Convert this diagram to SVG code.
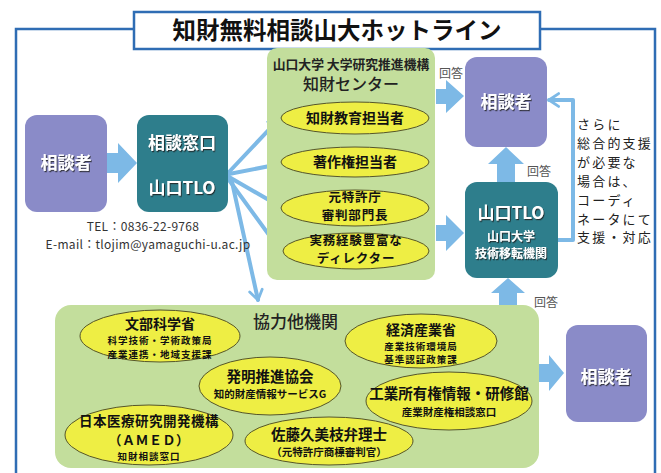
<svg xmlns="http://www.w3.org/2000/svg" width="661" height="473" viewBox="0 0 661 473">
<style>
text{font-family:"Noto Sans CJK JP","Noto Sans",sans-serif;text-anchor:middle}
.wt{fill:#fff;font-weight:700}
.et{fill:#111;font-weight:700}
.gr{fill:#555;font-size:12px}
.purple{fill:#8a8bc8}
.teal{fill:#2e7e8c}
.green{fill:#c3de9c}
.ell{fill:#eeee44;stroke:#55552a;stroke-width:1}
.blk{fill:#7db9e6}
.fan{fill:none;stroke:#7db9e6;stroke-width:4;stroke-linecap:round}
.note{fill:#222;font-size:13px;letter-spacing:2.2px;text-anchor:start}
.s{font-size:9.5px;letter-spacing:1px}
.ct{fill:#333;font-size:12px;letter-spacing:0.3px}
</style>
<defs>
<filter id="sh" x="-20%" y="-20%" width="140%" height="140%">
<feDropShadow dx="1" dy="1.2" stdDeviation="0.6" flood-color="#222" flood-opacity="0.8"/>
</filter>
<marker id="chev" viewBox="0 0 20 20" refX="16" refY="10" markerWidth="16" markerHeight="16" markerUnits="userSpaceOnUse" orient="auto">
<path d="M4,2 L16,10 L4,18" fill="none" stroke="#7db9e6" stroke-width="3.5" stroke-linecap="round" stroke-linejoin="round"/>
</marker>
</defs>
<rect width="661" height="473" fill="#fff"/>

<g id="frame">
<path d="M16,473 L16,29 L134,29 M540,29 L655,29 L655,473" fill="none" stroke="#2f6db4" stroke-width="2.5"/>
</g>
<g id="title">
<rect x="134" y="12" width="406" height="37" fill="#fff" stroke="#2f6db4" stroke-width="2.5"/>
<text x="337" y="39" font-size="23.5" font-weight="700" fill="#111">知財無料相談山大ホットライン</text>
</g>

<g id="connectors">
<polygon class="blk" points="107,153 118,153 118,143 137,163 118,183 118,173 107,173"/>
<polygon class="blk" points="436,89 446,89 446,80 464,96 446,113 446,104 436,104"/>
<polygon class="blk" points="436,225 446,225 446,215 464,233 446,251 446,241 436,241"/>
<polygon class="blk" points="497,182 497,164 488,164 506,147 524,164 515,164 515,182"/>
<polygon class="blk" points="499,305 499,293 491,293 508,278 525,293 517,293 517,305"/>
<polygon class="blk" points="539,364 549,364 549,355 564,373 549,391 549,382 539,382"/>
<path class="fan" d="M229,172 L279,119" marker-end="url(#chev)"/>
<path class="fan" d="M229,174 L280,164" marker-end="url(#chev)"/>
<path class="fan" d="M229,177 L281,207" marker-end="url(#chev)"/>
<path class="fan" d="M229,180 L280,250" marker-end="url(#chev)"/>
<path class="fan" d="M232,182 L258,300" marker-end="url(#chev)"/>
<path class="fan" d="M558,240 L573,240 L573,100 L549,100" stroke-linejoin="round" marker-end="url(#chev)"/>
<text class="gr" x="451" y="78">回答</text>
<text class="gr" x="539" y="176">回答</text>
<text class="gr" x="546" y="307">回答</text>
</g>

<g id="client-left">
<rect class="purple" x="25" y="115" width="82" height="97" rx="12"/>
<text class="wt" x="66" y="169" font-size="17" filter="url(#sh)">相談者</text>
</g>

<g id="window">
<rect class="teal" x="137" y="115" width="91" height="97" rx="12"/>
<text class="wt" x="182" y="149" font-size="17" filter="url(#sh)">相談窓口</text>
<text class="wt" x="182" y="194" font-size="17" filter="url(#sh)">山口TLO</text>
</g>

<g id="contact">
<text class="ct" x="143" y="231">TEL：0836-22-9768</text>
<text class="ct" x="148" y="249">E-mail：tlojim@yamaguchi-u.ac.jp</text>
</g>

<g id="center">
<rect class="green" x="267" y="48" width="168" height="232" rx="10"/>
<text x="351" y="69" font-size="12.8" font-weight="700" fill="#222">山口大学 大学研究推進機構</text>
<text x="351" y="90" font-size="16" font-weight="500" fill="#222">知財センター</text>
</g>
<g id="n-edu">
<ellipse class="ell" cx="355" cy="118" rx="74" ry="16"/>
<text class="et" x="355" y="123" font-size="14">知財教育担当者</text>
</g>
<g id="n-copy">
<ellipse class="ell" cx="355" cy="162" rx="74" ry="15"/>
<text class="et" x="355" y="167" font-size="14">著作権担当者</text>
</g>
<g id="n-jpo">
<ellipse class="ell" cx="355" cy="208" rx="74" ry="18"/>
<text class="et" x="355" y="201.5" font-size="12.5" letter-spacing="0.8">元特許庁<tspan x="355" dy="18.2">審判部門長</tspan></text>
</g>
<g id="n-dir">
<ellipse class="ell" cx="356" cy="251" rx="73" ry="18"/>
<text class="et" x="356" y="244.5" font-size="12.5" letter-spacing="0.8">実務経験豊富な<tspan x="356" dy="18.2">ディレクター</tspan></text>
</g>

<g id="client-top">
<rect class="purple" x="465" y="57" width="82" height="90" rx="12"/>
<text class="wt" x="506" y="108" font-size="17" filter="url(#sh)">相談者</text>
</g>

<g id="tlo">
<rect class="teal" x="465" y="182" width="93" height="96" rx="12"/>
<text class="wt" x="511" y="219" font-size="17" filter="url(#sh)">山口TLO</text>
<text class="wt" x="511" y="240.5" font-size="12" filter="url(#sh)">山口大学<tspan x="511" dy="17.6">技術移転機関</tspan></text>
</g>

<g id="note">
<text class="note" x="577" y="129">さらに<tspan x="577" dy="18.9">総合的支援</tspan><tspan x="577" dy="18.9">が必要な</tspan><tspan x="577" dy="18.9">場合は、</tspan><tspan x="577" dy="18.9">コーディ</tspan><tspan x="577" dy="18.9">ネータにて</tspan><tspan x="577" dy="18.9">支援・対応</tspan></text>
</g>

<g id="partners">
<rect class="green" x="55" y="305" width="484" height="163" rx="16"/>
<text x="253" y="328" font-size="17" font-weight="500" fill="#222" style="text-anchor:start">協力他機関</text>
</g>
<g id="p-mext">
<ellipse class="ell" cx="160" cy="336" rx="80" ry="26"/>
<text class="et" x="160" y="329" font-size="14">文部科学省<tspan class="s" x="160" dy="15.1">科学技術・学術政策局</tspan><tspan class="s" x="160" dy="13.8">産業連携・地域支援課</tspan></text>
</g>
<g id="p-meti">
<ellipse class="ell" cx="421" cy="341" rx="76" ry="27"/>
<text class="et" x="421" y="334.5" font-size="14">経済産業省<tspan class="s" x="421" dy="15.1">産業技術環境局</tspan><tspan class="s" x="421" dy="13.8">基準認証政策課</tspan></text>
</g>
<g id="p-jiii">
<ellipse class="ell" cx="270" cy="386" rx="71" ry="29"/>
<text class="et" x="270" y="381.5" font-size="14.5">発明推進協会<tspan x="270" dy="16.6" font-size="10.5">知的財産情報サービスG</tspan></text>
</g>
<g id="p-inpit">
<ellipse class="ell" cx="449" cy="401" rx="83" ry="29"/>
<text class="et" x="449" y="399" font-size="14.5">工業所有権情報・研修館<tspan x="449" dy="16.6" font-size="10.5">産業財産権相談窓口</tspan></text>
</g>
<g id="p-amed">
<ellipse class="ell" cx="149" cy="435" rx="84" ry="30"/>
<text class="et" x="149" y="426" font-size="13.5" letter-spacing="0.5">日本医療研究開発機構<tspan x="149" dy="19.1" font-size="13">（ＡＭＥＤ）</tspan><tspan class="s" x="149" dy="14.8">知財相談窓口</tspan></text>
</g>
<g id="p-sato">
<ellipse class="ell" cx="329" cy="441" rx="84" ry="24"/>
<text class="et" x="329" y="439.5" font-size="14.5">佐藤久美枝弁理士<tspan x="329" dy="16.6" font-size="10.5">（元特許庁商標審判官）</tspan></text>
</g>

<g id="client-bottom">
<rect class="purple" x="566" y="325" width="81" height="97" rx="12"/>
<text class="wt" x="606" y="383" font-size="17" filter="url(#sh)">相談者</text>
</g>
</svg>
